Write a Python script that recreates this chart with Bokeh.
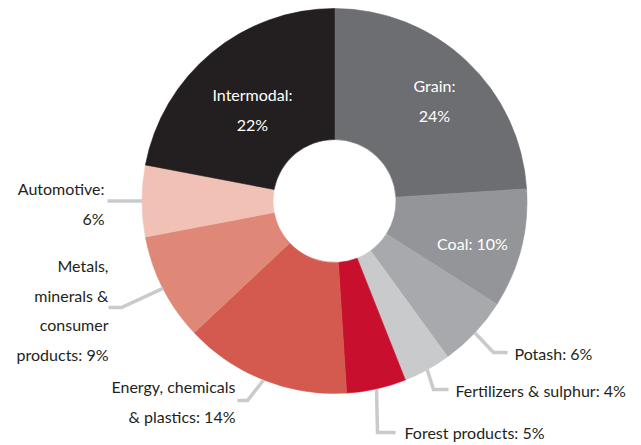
import math
from bokeh.plotting import figure
from bokeh.models import Range1d, ColumnDataSource
from bokeh.core.properties import value
from bokeh.embed import file_html
from bokeh.resources import INLINE

# ---- data ----
categories = ["Grain", "Coal", "Potash", "Fertilizers & sulphur", "Forest products",
              "Energy, chemicals & plastics", "Metals, minerals & consumer products",
              "Automotive", "Intermodal"]
values = [24, 10, 6, 4, 5, 14, 9, 6, 22]
colors = ["#6d6e71", "#939598", "#a7a9ac", "#c9cacc", "#c8102e",
          "#d45a50", "#e08878", "#f2c1b5", "#231f20"]
# words per wrapped label line ("name: value%")
wrap = [[1, 1], [2], [2], [4], [3], [2, 3], [1, 2, 1, 2], [1, 1], [1, 1]]

# ---- layout (screen pixel coordinates of the page) ----
W, H = 641, 445
CX, CY = 334, 200.5
R_OUT, R_IN = 192.5, 61.5
FONT = "Lato"
FSIZE = "16px"
LEAD = 29.5
# label: (anchor x, first line y, align, inside?, leader elbow points)
layout = {
    "Grain": (434, 85, "center", True, None),
    "Coal": (472, 243, "center", True, None),
    "Potash": (514, 353, "left", False, [(493, 352), (507, 352)]),
    "Fertilizers & sulphur": (455, 389.5, "left", False, [(433, 389), (448, 389)]),
    "Forest products": (404, 432, "left", False, [(377, 432), (395, 432)]),
    "Energy, chemicals & plastics": (235, 386, "right", False, [(247, 400), (237, 400)]),
    "Metals, minerals & consumer products": (108, 265, "right", False, [(121, 307), (108, 307)]),
    "Automotive": (104, 188, "right", False, [(107, 200.5)]),
    "Intermodal": (252, 94, "center", True, None),
}


def dx(sx):
    return sx


def dy(sy):
    return H - sy


p = figure(width=W, height=H, output_backend="svg", toolbar_location=None,
           x_range=Range1d(0, W), y_range=Range1d(0, H),
           x_axis_type=None, y_axis_type=None, min_border=0)
p.outline_line_color = None
p.background_fill_color = "white"
p.border_fill_color = "white"

total = float(sum(values))
starts, ends, mids = [], [], []
c = 0.0
for v in values:
    c0, c1 = c / total, (c + v) / total
    starts.append(math.pi / 2 - 2 * math.pi * c0)
    ends.append(math.pi / 2 - 2 * math.pi * c1)
    mids.append(math.pi / 2 - 2 * math.pi * (c0 + c1) / 2)
    c += v

src = ColumnDataSource(dict(x=[dx(CX)] * len(values), y=[dy(CY)] * len(values),
                            start=starts, end=ends, color=colors, name=categories))
p.annular_wedge(x="x", y="y", inner_radius=R_IN, outer_radius=R_OUT,
                start_angle="start", end_angle="end", direction="clock",
                fill_color="color", line_color="color", line_width=0.6, source=src)

# leader lines
xs, ys = [], []
for i, name in enumerate(categories):
    ax, ay, align, inside, elbow = layout[name]
    if elbow is None:
        continue
    px = dx(CX) + R_OUT * math.cos(mids[i])
    py = dy(CY) + R_OUT * math.sin(mids[i])
    lx = [px] + [dx(e[0]) for e in elbow]
    ly = [py] + [dy(e[1]) for e in elbow]
    xs.append(lx)
    ys.append(ly)
p.multi_line(xs=xs, ys=ys, line_color="#c9cacc", line_width=3.5,
             line_join="miter", line_cap="butt")

# labels
for i, name in enumerate(categories):
    ax, ay, align, inside, elbow = layout[name]
    words = f"{name}: {values[i]}%".split(" ")
    lines, k = [], 0
    for n in wrap[i]:
        lines.append(" ".join(words[k:k + n]))
        k += n
    tx = [dx(ax)] * len(lines)
    ty = [dy(ay + j * LEAD) for j in range(len(lines))]
    p.text(x=tx, y=ty, text=lines, text_align=align, text_baseline="middle",
           text_font=value(FONT), text_font_size=FSIZE,
           text_color="white" if inside else "#231f20")

open("out.html", "w").write(file_html(p, INLINE))
